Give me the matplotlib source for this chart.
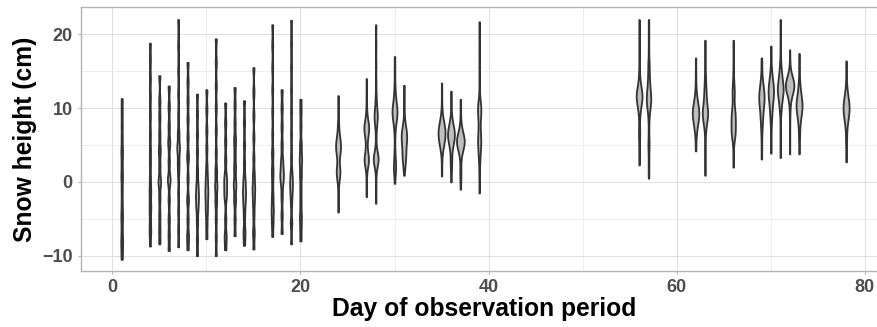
import numpy as np
import matplotlib
matplotlib.use("Agg")
import matplotlib.pyplot as plt
from matplotlib import cbook

# snow height readings per day, written as value levels + how often each was seen
# early period (days 1-20), very spread out
early_days = [1, 4, 5, 6, 7, 8, 9, 10, 11, 12, 13, 14, 15, 17, 18, 19, 20]
early_values = [
    [-10.5, -9.2, -7.9, -6.3, -4.7, -3.0, -1.2, 0.7, 2.4, 4.1, 5.9, 7.7, 9.5, 11.3],
    [-8.7, -6.7, -5.0, -3.3, -1.3, 0.5, 2.5, 4.3, 6.5, 9.0, 11.5, 14.0, 16.5, 18.8],
    [-8.4, -6.5, -4.5, -2.2, 0.0, 2.2, 4.3, 6.5, 8.8, 11.0, 14.4],
    [-9.3, -7.2, -5.0, -2.4, 0.3, 2.8, 5.3, 7.6, 10.2, 13.0],
    [-8.8, -6.5, -4.0, -1.5, 1.0, 2.6, 4.6, 6.6, 9.0, 12.0, 15.0, 18.5, 22.0],
    [-9.2, -7.4, -5.0, -2.4, 0.5, 3.4, 6.0, 8.5, 11.0, 13.5, 16.2],
    [-10.0, -7.8, -5.5, -3.5, -2.0, -0.5, 1.5, 4.0, 6.5, 9.2, 11.9],
    [-7.7, -5.8, -4.0, -2.5, -1.1, 0.5, 2.1, 4.5, 7.0, 9.8, 12.5],
    [-10.0, -7.5, -5.0, -2.7, -0.6, 1.5, 4.0, 7.0, 10.0, 13.0, 16.2, 19.4],
    [-9.2, -7.4, -5.0, -2.0, -0.6, 0.7, 3.0, 5.5, 8.0, 10.7],
    [-7.3, -5.0, -2.5, -0.4, 1.8, 3.8, 5.7, 8.0, 10.4, 12.8],
    [-8.6, -6.8, -4.5, -2.8, -1.3, 0.3, 2.5, 5.0, 8.0, 11.0],
    [-9.1, -6.9, -4.5, -2.6, -0.9, 0.9, 3.2, 6.0, 9.0, 12.2, 15.5],
    [-7.4, -5.5, -3.8, -2.0, 0.0, 1.6, 3.9, 6.5, 9.5, 12.5, 15.5, 18.5, 21.3],
    [-7.0, -4.5, -2.0, 0.0, 1.2, 2.8, 5.0, 7.5, 10.0, 12.5],
    [-8.4, -5.6, -3.0, -1.5, -0.2, 1.2, 3.5, 6.5, 9.5, 12.5, 15.5, 18.7, 21.9],
    [-8.0, -6.3, -4.7, -2.8, -1.0, 1.0, 3.0, 5.0, 7.5, 9.5, 11.2],
]
early_counts = [
    [2, 2, 3, 2, 3, 2, 2, 3, 2, 3, 2, 2, 2, 2],
    [2, 3, 2, 3, 3, 2, 2, 2, 2, 2, 2, 2, 2, 2],
    [2, 2, 2, 2, 4, 2, 3, 2, 2, 2, 2],
    [2, 2, 2, 2, 4, 2, 3, 2, 2, 2],
    [2, 2, 2, 2, 2, 3, 5, 3, 2, 2, 2, 2, 2],
    [2, 3, 2, 3, 2, 3, 2, 2, 2, 2, 2],
    [2, 2, 2, 3, 4, 3, 2, 2, 2, 2, 2],
    [2, 2, 3, 3, 4, 3, 2, 2, 2, 2, 2],
    [2, 2, 2, 3, 4, 3, 2, 2, 2, 2, 2, 2],
    [2, 3, 2, 3, 3, 3, 2, 2, 2, 2],
    [2, 2, 3, 4, 3, 2, 3, 2, 2, 2],
    [2, 3, 2, 3, 4, 3, 2, 2, 2, 2],
    [2, 3, 2, 3, 4, 3, 2, 2, 2, 2, 2],
    [2, 3, 4, 3, 2, 3, 3, 2, 2, 2, 2, 2, 2],
    [2, 2, 2, 3, 4, 3, 2, 2, 2, 2],
    [2, 3, 2, 3, 4, 3, 2, 2, 2, 2, 2, 2, 2],
    [2, 2, 3, 2, 2, 3, 4, 3, 2, 2, 2],
]

# middle period (days 24-39)
mid_days = [24, 27, 28, 30, 31, 35, 36, 37, 39]
mid_values = [
    [-4.1, -2.5, -1.0, 0.3, 1.3, 2.2, 3.2, 4.0, 4.8, 5.6, 6.5, 7.6, 8.6, 10.0, 11.7],
    [-2.0, -0.5, 1.0, 2.2, 3.0, 3.8, 4.8, 5.8, 6.6, 7.3, 8.0, 9.0, 10.2, 12.0, 14.0],
    [-2.9, -1.0, 0.8, 2.2, 3.1, 4.0, 5.2, 6.5, 7.8, 8.9, 10.0, 11.5, 13.5, 16.0, 18.6, 21.3],
    [-0.2, 1.2, 2.1, 3.2, 4.5, 6.0, 7.3, 8.4, 9.3, 10.2, 11.2, 12.5, 14.0, 15.5, 17.0],
    [0.9, 2.0, 3.0, 3.9, 4.8, 5.6, 6.4, 7.2, 8.0, 9.2, 10.6, 11.8, 13.1],
    [0.8, 2.0, 3.2, 4.2, 5.0, 5.8, 6.6, 7.4, 8.2, 9.2, 10.4, 11.9, 13.4],
    [0.0, 1.2, 2.2, 3.2, 4.2, 5.0, 5.7, 6.4, 7.1, 7.8, 8.6, 9.8, 11.0, 12.3],
    [-1.0, 0.2, 1.2, 2.2, 3.4, 4.2, 4.9, 5.5, 6.1, 6.8, 7.6, 8.6, 10.0, 11.2],
    [-1.5, 0.5, 2.0, 3.2, 4.4, 5.5, 6.6, 7.7, 8.8, 9.8, 10.8, 12.5, 15.0, 17.5, 19.8, 21.7],
]
mid_counts = [
    [1, 1, 1, 3, 7, 3, 2, 5, 7, 5, 3, 2, 1, 1, 1],
    [1, 1, 1, 3, 7, 3, 2, 2, 4, 6, 4, 2, 1, 1, 1],
    [1, 1, 1, 3, 8, 3, 1, 1, 3, 5, 3, 2, 1, 1, 1, 1],
    [1, 2, 3, 2, 1, 1, 2, 4, 6, 5, 3, 2, 1, 1, 1],
    [1, 2, 4, 4, 4, 5, 6, 4, 2, 1, 1, 1, 1],
    [1, 1, 1, 3, 6, 9, 11, 9, 6, 3, 1, 1, 1],
    [1, 1, 2, 2, 2, 4, 6, 8, 6, 4, 2, 1, 1, 1],
    [1, 1, 2, 1, 2, 4, 7, 8, 7, 4, 2, 1, 1, 1],
    [1, 1, 1, 2, 3, 4, 3, 2, 3, 4, 3, 1, 1, 1, 1, 1],
]

# late period (days 56-78)
late_days = [56, 57, 62, 63, 66, 69, 70, 71, 72, 73, 78]
late_values = [
    [2.3, 3.8, 5.2, 6.6, 8.0, 9.3, 10.5, 11.6, 12.7, 14.0, 15.5, 17.5, 19.8, 22.0],
    [0.5, 2.0, 3.5, 5.0, 6.5, 8.0, 9.3, 10.4, 11.3, 12.3, 13.5, 14.8, 16.1, 18.0, 20.0, 22.0],
    [4.2, 5.5, 6.6, 7.6, 8.5, 9.3, 10.1, 11.0, 12.0, 13.2, 14.8, 16.8],
    [0.9, 2.5, 4.0, 5.5, 7.0, 8.2, 9.3, 10.4, 11.5, 12.6, 14.0, 15.5, 17.3, 19.2],
    [2.0, 3.5, 5.0, 6.1, 7.0, 8.0, 9.0, 9.9, 10.9, 12.2, 13.5, 15.0, 17.0, 19.2],
    [3.1, 4.5, 6.0, 7.2, 8.4, 9.5, 10.6, 11.6, 12.6, 13.6, 14.6, 15.7, 16.8],
    [3.9, 5.3, 6.8, 8.2, 9.4, 10.5, 11.5, 12.5, 13.5, 14.6, 15.8, 17.1, 18.4],
    [3.3, 5.0, 6.8, 8.5, 9.8, 11.0, 12.0, 12.8, 13.8, 14.9, 16.2, 18.0, 20.0, 22.0],
    [3.8, 5.3, 6.8, 8.2, 9.5, 10.6, 11.6, 12.4, 13.1, 13.8, 14.6, 15.5, 16.7, 17.9],
    [3.8, 5.1, 6.4, 7.6, 8.6, 9.5, 10.4, 11.3, 12.3, 13.4, 14.5, 16.0, 17.4],
    [2.7, 4.1, 5.5, 6.8, 8.0, 9.0, 10.0, 11.0, 12.0, 13.2, 14.7, 16.4],
]
late_counts = [
    [1, 1, 1, 2, 1, 2, 5, 8, 5, 2, 1, 1, 1, 1],
    [1, 1, 1, 2, 1, 1, 2, 4, 5, 4, 3, 2, 2, 1, 1, 1],
    [1, 1, 2, 4, 6, 7, 6, 4, 2, 1, 1, 1],
    [1, 1, 1, 1, 2, 5, 8, 5, 3, 3, 2, 1, 1, 1],
    [1, 1, 1, 4, 5, 5, 5, 3, 2, 4, 2, 1, 1, 1],
    [1, 1, 1, 2, 3, 4, 6, 7, 5, 3, 1, 1, 1],
    [1, 1, 1, 2, 3, 4, 6, 7, 5, 3, 1, 1, 1],
    [1, 1, 1, 1, 3, 5, 7, 8, 6, 4, 2, 1, 1, 1],
    [1, 1, 1, 1, 2, 3, 8, 14, 18, 14, 6, 2, 1, 1],
    [1, 1, 2, 2, 4, 6, 8, 6, 4, 2, 1, 1, 1],
    [1, 1, 2, 2, 4, 7, 9, 7, 4, 2, 1, 1],
]

x_ticks = [0, 20, 40, 60, 80]
y_ticks = [-10, 0, 10, 20]

BW = 0.8  # kernel bandwidth (cm)
FONT = ["Liberation Sans", "DejaVu Sans"]


def kde(data, coords):
    data = np.asarray(data, float)
    z = (coords[:, None] - data[None, :]) / BW
    return np.exp(-0.5 * z ** 2).sum(axis=1) / (len(data) * BW * np.sqrt(2 * np.pi))


days = early_days + mid_days + late_days
samples = [np.repeat(v, c) for v, c in
           zip(early_values + mid_values + late_values, early_counts + mid_counts + late_counts)]

stats = cbook.violin_stats(samples, kde, points=512)
# ggplot-like "area" scaling: widest density in the whole set gets width 0.9
peaks = np.array([s["vals"].max() for s in stats])
widths = 0.9 * peaks / peaks.max()

plt.rcParams["font.family"] = FONT
fig = plt.figure(figsize=(8.77, 3.27), dpi=100)
# panel runs a little past the right edge of the picture, as in the original
ax = fig.add_axes([0.0921, 0.1713, 0.9193, 0.8064])

parts = ax.violin(stats, positions=days, widths=widths,
                  showmeans=False, showextrema=False, showmedians=False)
for body in parts["bodies"]:
    body.set_facecolor("#BEBEBE")
    body.set_edgecolor("#333333")
    body.set_alpha(1)
    body.set_linewidth(1.3)
    body.set_zorder(3)

ax.set_xlim(-3.35, 82.35)
ax.set_ylim(-12.07, 23.66)
ax.set_xticks(x_ticks)
ax.set_yticks(y_ticks)
ax.set_xticks([10, 30, 50, 70], minor=True)
ax.set_yticks([-5, 5, 15], minor=True)
ax.grid(which="major", color="#DEDEDE", linewidth=0.7, zorder=0)
ax.grid(which="minor", color="#E6E6E6", linewidth=0.5, zorder=0)
ax.set_axisbelow(True)

for side in ["left", "bottom", "top", "right"]:
    ax.spines[side].set_color("#B3B3B3")
    ax.spines[side].set_linewidth(1.0)

ax.tick_params(which="major", length=2.5, width=0.8, color="#B3B3B3",
               labelsize=13, labelcolor="#4D4D4D", pad=3.3)
ax.tick_params(which="minor", length=0)
for lab in ax.get_xticklabels() + ax.get_yticklabels():
    lab.set_fontweight("bold")

ax.set_xlabel("Day of observation period", fontsize=17.7, fontweight="bold", labelpad=1)
ax.set_ylabel("Snow height (cm)", fontsize=17.7, fontweight="bold", labelpad=4)

fig.savefig("out.png", dpi=100)
